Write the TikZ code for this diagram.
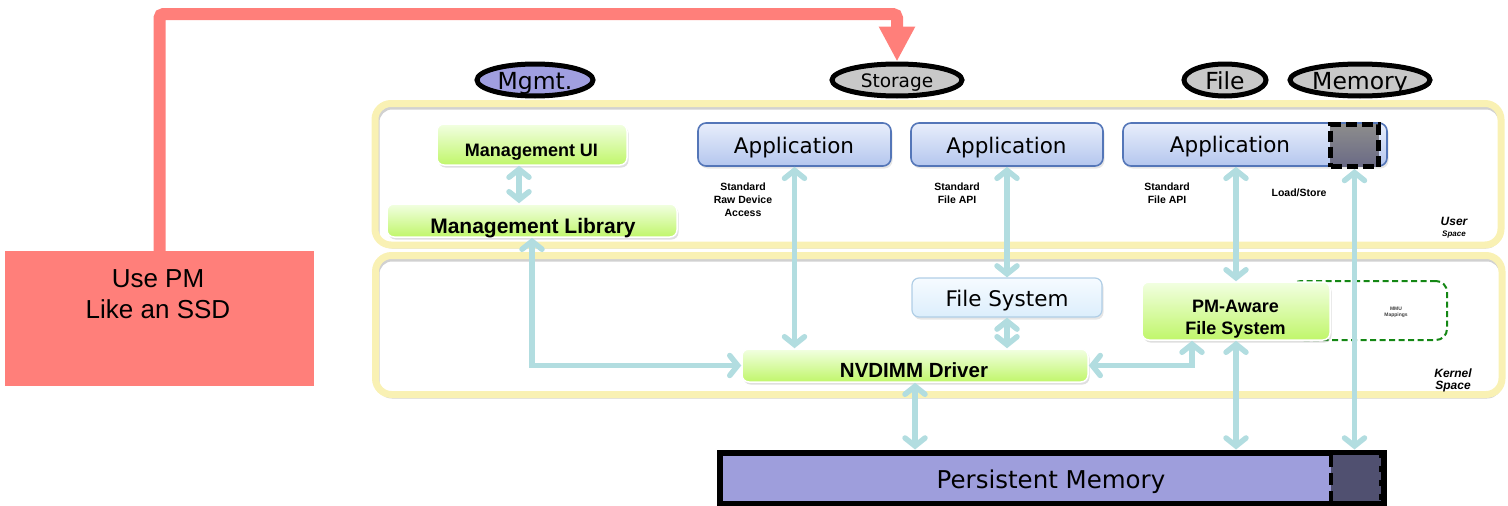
\documentclass[tikz,border=0pt]{standalone}
\usepackage{fontspec}
\setmainfont{Liberation Sans}
\newfontfamily\dvs{DejaVu Sans}
\usetikzlibrary{arrows.meta,shadows,shapes.geometric,calc}
\definecolor{arrowc}{RGB}{178,221,224}
\definecolor{yband}{RGB}{249,241,180}
\definecolor{redc}{RGB}{255,127,122}
\definecolor{lav}{RGB}{160,159,224}
\definecolor{pmfill}{RGB}{158,158,220}
\definecolor{pmdark}{RGB}{80,80,112}
\definecolor{gtop}{RGB}{242,255,226}
\definecolor{gbot}{RGB}{192,246,106}
\definecolor{btop}{RGB}{232,238,251}
\definecolor{bbot}{RGB}{180,198,238}
\definecolor{bborder}{RGB}{84,118,184}
\definecolor{ftop}{RGB}{246,251,255}
\definecolor{fbot}{RGB}{220,238,252}
\definecolor{fborder}{RGB}{176,206,230}
\definecolor{mmugreen}{RGB}{20,135,20}
\definecolor{ellgray}{RGB}{200,200,200}
\newcommand{\myfs}[2]{\fontsize{#1}{#2}\selectfont}
\tikzset{
  band/.style={draw=yband, line width=7pt, rounded corners=16pt},
  bandshadow/.style={draw=black!18, line width=3pt, rounded corners=14pt},
  greenbox/.style={draw=white, line width=1.5pt, rounded corners=7pt, top color=gtop, bottom color=gbot,
     drop shadow={opacity=0.25, shadow xshift=1.5pt, shadow yshift=-2.5pt}, inner sep=0pt},
  appbox/.style={draw=bborder, line width=1.6pt, rounded corners=8pt, top color=btop, bottom color=bbot,
     drop shadow={opacity=0.2, shadow xshift=1.5pt, shadow yshift=-2.5pt}, inner sep=0pt},
  fsbox/.style={draw=fborder, line width=1.2pt, rounded corners=7pt, top color=ftop, bottom color=fbot,
     drop shadow={opacity=0.2, shadow xshift=1.5pt, shadow yshift=-2.5pt}, inner sep=0pt},
  tag/.style={ellipse, draw=black, line width=5pt, inner sep=0pt, minimum height=32pt},
  tagtext/.style={font=\dvs\myfs{23.5}{26}, inner sep=0pt, anchor=base},
  conn/.style={draw=arrowc, line width=5.5pt, line cap=round,
     {Straight Barb[length=8pt,width=20pt,line cap=round]}-{Straight Barb[length=8pt,width=20pt,line cap=round]}},
  boldlbl/.style={font=\bfseries\myfs{10.5}{13}, align=center, inner sep=0pt, anchor=base},
  apptext/.style={font=\dvs\myfs{21.5}{24}, inner sep=0pt, anchor=base},
  gtext/.style={font=\bfseries\myfs{18}{22}, inner sep=0pt, anchor=base},
}
\begin{document}
\begin{tikzpicture}[x=1pt,y=-1pt]
\useasboundingbox (0,0) rectangle (1508,506);

% layer bands
\draw[bandshadow] (378,108) rectangle (1500,247);
\draw[band] (375,103.5) rectangle (1501,245);
\draw[bandshadow] (378,260) rectangle (1501,397);
\draw[band] (375.5,255.5) rectangle (1502,394.5);
\node[font=\bfseries\itshape\myfs{12}{14}, inner sep=0pt, anchor=base] (usr) at (1454,225) {User};
\node[font=\bfseries\itshape\myfs{8}{10}, inner sep=0pt, anchor=base] (usr2) at (1454,236) {Space};
\node[font=\bfseries\itshape\myfs{12}{14}, inner sep=0pt, anchor=base] (krn) at (1453,377) {Kernel};
\node[font=\bfseries\itshape\myfs{12}{14}, inner sep=0pt, anchor=base] (krn2) at (1453,389) {Space};

% MMU box (behind PM-aware)
\node[draw=mmugreen, line width=2pt, dash pattern=on 6pt off 3.5pt, rounded corners=11pt,
      minimum width=157pt, minimum height=59pt, inner sep=0pt] (mmu) at (1368.5,310.5) {};
\node[font=\bfseries\myfs{5}{6}, text=black!75, align=center, inner sep=0pt] (mmut) at (1396,312) {MMU\\Mappings};

% user space boxes
\node[greenbox, minimum width=190pt, minimum height=41pt] (mui) at (532,144.5) {};
\node[gtext] (muit) at (531.5,156) {Management UI};
\node[greenbox, minimum width=290pt, minimum height=33pt] (mlib) at (532,220.5) {};
\node[gtext, font=\bfseries\myfs{21}{24}] (mlibt) at (533,233) {Management Library};

\node[appbox, minimum width=193pt, minimum height=43pt] (app1) at (794.5,144.5) {};
\node[apptext] (app1t) at (794,153) {Application};
\node[appbox, minimum width=192pt, minimum height=43pt] (app2) at (1007,144.5) {};
\node[apptext] (app2t) at (1006.5,153) {Application};
\node[appbox, minimum width=264pt, minimum height=43pt] (app3) at (1255,144.5) {};
\node[apptext] (app3t) at (1230,152) {Application};
\node[draw=black, line width=5pt, dash pattern=on 11pt off 5pt, top color=black!45, bottom color=pmdark!85,
      minimum width=48pt, minimum height=42pt, inner sep=0pt] (dsq) at (1354.5,145.5) {};

\node[boldlbl] (l1) at (743,216) {Standard\\Raw Device\\Access};
\node[boldlbl] (l2) at (957,203) {Standard\\File API};
\node[boldlbl] (l3) at (1167,203) {Standard\\File API};
\node[boldlbl] (l4) at (1299,196) {Load/Store};

% kernel boxes
\node[fsbox, minimum width=190pt, minimum height=39pt] (fs) at (1007,297.5) {};
\node[apptext] (fst) at (1007,306) {File System};
\node[greenbox, minimum width=346pt, minimum height=33pt] (nv) at (915,365.5) {};
\node[gtext, font=\bfseries\myfs{20.5}{24}] (nvt) at (914,377) {NVDIMM Driver};
\node[greenbox, minimum width=188pt, minimum height=58pt] (pmfs) at (1236,311) {};
\node[gtext] (pmfst1) at (1235.5,312) {PM-Aware};
\node[gtext] (pmfst2) at (1235.5,334) {File System};

% persistent memory
\node[draw=black, line width=6pt, fill=pmfill, minimum width=664pt, minimum height=51pt, inner sep=0pt] (pm) at (1052,478) {};
\fill[pmdark] (1331,455) rectangle (1381,501);
\draw[black, line width=4pt, dash pattern=on 12pt off 6pt] (1331,455) -- (1331,501);
\draw[black, line width=4pt, dash pattern=on 6pt off 8pt, dash phase=3pt] (1381,455) -- (1381,501);
\node[apptext, font=\dvs\myfs{24.5}{28}] (pmt) at (1051,488) {Persistent Memory};

% connectors
\draw[conn] ([xshift=-13pt]mui.south) -- ([xshift=-13pt]mlib.north);
\draw[conn] (mlib.south) |- (nv.west);
\draw[conn] (app1.south) -- (app1.south |- nv.north);
\draw[conn] (app2.south) -- (fs.north);
\draw[conn] (fs.south) -- (fs.south |- nv.north);
\coordinate (pmfsl) at ([xshift=-44pt]pmfs.south);
\draw[conn] (nv.east) -| (pmfsl);
\draw[conn] (pmfs.north |- app3.south) -- (pmfs.north);
\draw[conn] (pmfs.south) -- (pmfs.south |- pm.north);
\draw[conn] (dsq.south) -- (dsq.south |- pm.north);
\draw[conn] (nv.south) -- (nv.south |- pm.north);

% tags
\node[tag, fill=lav, minimum width=116pt] (tmg) at (535,80) {};
\node[tagtext] (tmgt) at (535,89) {Mgmt.};
\node[tag, fill=ellgray, minimum width=130pt] (tst) at (897,80) {};
\node[tagtext, font=\dvs\myfs{18.5}{22}] (tstt) at (897,87) {Storage};
\node[tag, fill=ellgray, minimum width=82pt] (tfi) at (1225,80) {};
\node[tagtext] (tfit) at (1225,89) {File};
\node[tag, fill=ellgray, minimum width=140pt] (tme) at (1360,80) {};
\node[tagtext] (tmet) at (1360,89) {Memory};

% use PM box and red connector
\node[fill=redc, minimum width=309pt, minimum height=135pt, inner sep=0pt] (usepm) at (159.5,318.5) {};
\node[font=\myfs{26}{31}, align=center, inner sep=0pt, anchor=base] (usepmt) at (158,318) {Use PM\\Like an SSD};
\coordinate (rc) at (897,14);
\draw[draw=redc, line width=12pt, rounded corners=4pt, -{Triangle[length=35pt,width=34pt]}] (usepm.north) |- (rc) -- (tst.north);
\end{tikzpicture}
\end{document}
